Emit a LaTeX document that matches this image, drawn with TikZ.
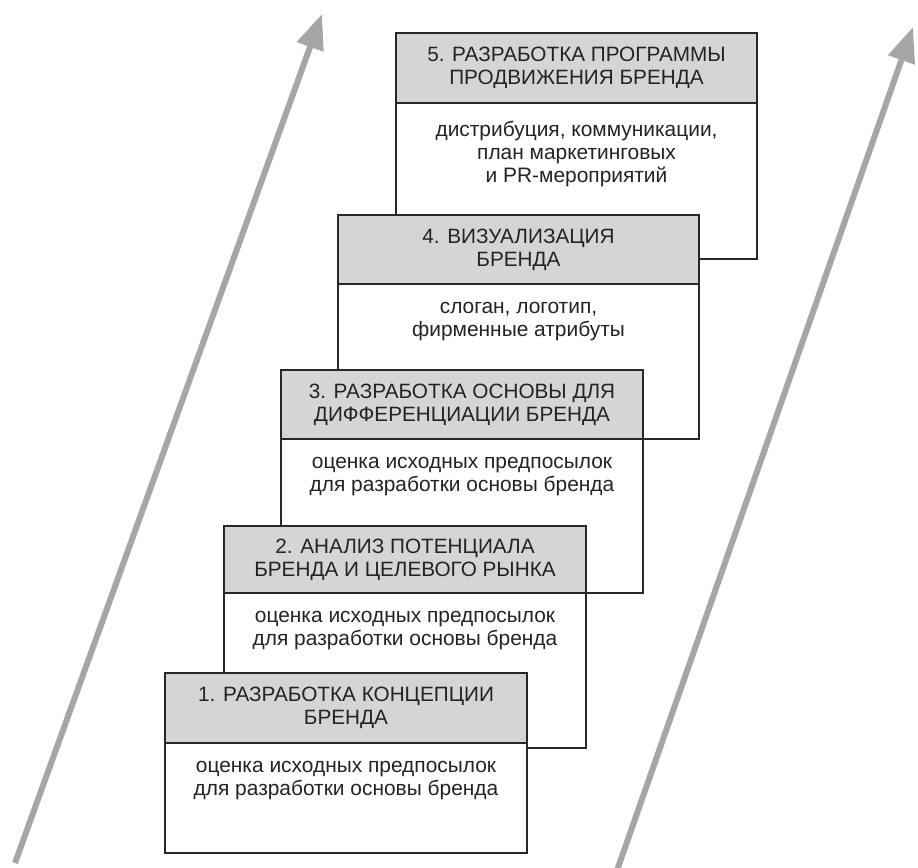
\documentclass[tikz,border=0pt]{standalone}
\usepackage{fontspec}
\setmainfont{Liberation Sans}
\usetikzlibrary{arrows.meta}

\begin{document}
\begin{tikzpicture}[>=Triangle]

\definecolor{arrowcolor}{RGB}{166, 166, 166}
\definecolor{headcolor}{RGB}{213, 213, 213}
\definecolor{framecolor}{RGB}{40, 40, 40}
\definecolor{textcolor}{RGB}{35, 35, 35}

\tikzset{
  frame/.style={draw=framecolor, line width=1pt},
  headtext/.style={text=textcolor, align=center, inner sep=0pt,
    font=\fontsize{11.8}{13}\selectfont},
  bodytext/.style={text=textcolor, align=center, inner sep=0pt, anchor=north,
    font=\fontsize{11.9}{13}\selectfont, execute at begin node=\strut},
  bigarrow/.style={arrowcolor, line width=3.4pt, -{Triangle[length=0.7cm, width=0.54cm]}}
}

\useasboundingbox (0, 0) rectangle (18.36, 17.36);

% rising arrows
\coordinate (lfoot) at (0.30, 0.10);
\coordinate (ltip) at (6.44, 17.08);
\coordinate (rfoot) at (12.34, -0.05);
\coordinate (rtip) at (18.26, 16.82);
\draw[bigarrow] (lfoot) -- (ltip);
\draw[bigarrow] (rfoot) -- (rtip);

% step 5
\draw[frame, fill=white] (7.92, 12.18) rectangle (15.14, 16.70);
\draw[frame, fill=headcolor] (7.92, 15.30) rectangle (15.14, 16.70);
\node[headtext] (h5) at (11.53, 16.00) {5. РАЗРАБОТКА ПРОГРАММЫ\\ПРОДВИЖЕНИЯ БРЕНДА};
\node[bodytext] (d5) at (11.53, 14.94) {дистрибуция, коммуникации,\\план маркетинговых\\и PR-мероприятий};

% step 4
\draw[frame, fill=white] (6.76, 8.58) rectangle (13.98, 13.06);
\draw[frame, fill=headcolor] (6.76, 11.68) rectangle (13.98, 13.06);
\node[headtext] (h4) at (10.37, 12.37) {4. ВИЗУАЛИЗАЦИЯ\\БРЕНДА};
\node[bodytext] (d4) at (10.37, 11.32) {слоган, логотип,\\фирменные атрибуты};

% step 3
\draw[frame, fill=white] (5.62, 5.50) rectangle (12.86, 9.96);
\draw[frame, fill=headcolor] (5.62, 8.58) rectangle (12.86, 9.96);
\node[headtext] (h3) at (9.24, 9.27) {3. РАЗРАБОТКА ОСНОВЫ ДЛЯ\\ДИФФЕРЕНЦИАЦИИ БРЕНДА};
\node[bodytext] (d3) at (9.24, 8.22) {оценка исходных предпосылок\\для разработки основы бренда};

% step 2
\draw[frame, fill=white] (4.48, 2.40) rectangle (11.72, 6.84);
\draw[frame, fill=headcolor] (4.48, 5.50) rectangle (11.72, 6.84);
\node[headtext] (h2) at (8.10, 6.17) {2. АНАЛИЗ ПОТЕНЦИАЛА\\БРЕНДА И ЦЕЛЕВОГО РЫНКА};
\node[bodytext] (d2) at (8.10, 5.14) {оценка исходных предпосылок\\для разработки основы бренда};

% step 1
\draw[frame, fill=white] (3.30, 0.30) rectangle (10.54, 3.90);
\draw[frame, fill=headcolor] (3.30, 2.50) rectangle (10.54, 3.90);
\node[headtext] (h1) at (6.92, 3.20) {1. РАЗРАБОТКА КОНЦЕПЦИИ\\БРЕНДА};
\node[bodytext] (d1) at (6.92, 2.14) {оценка исходных предпосылок\\для разработки основы бренда};

\end{tikzpicture}
\end{document}
